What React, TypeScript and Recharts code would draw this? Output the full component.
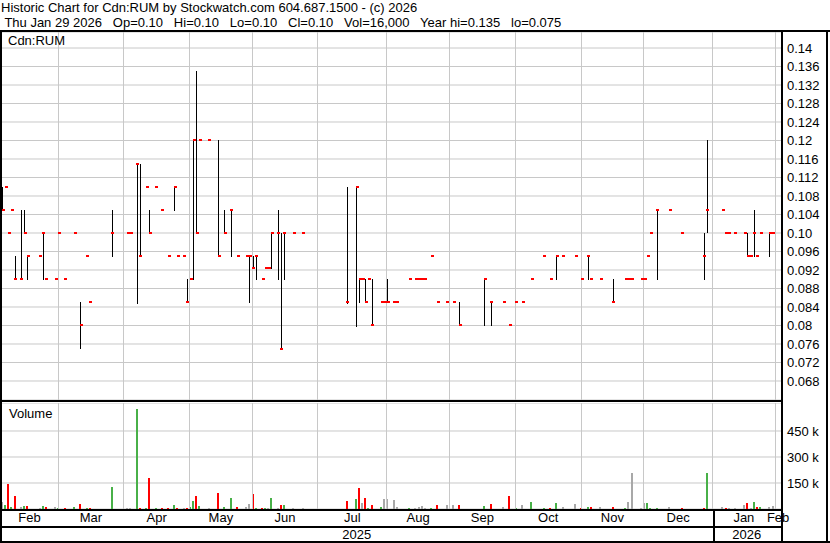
import { ComposedChart, BarChart, Bar, Scatter, XAxis, YAxis, CartesianGrid, ReferenceLine, Cell } from 'recharts';

// trading-day index (0 = Feb 3 2025) of every day with a trade
const dayIdx = [
  0, 1, 2, 3, 4, 6, 7, 8, 12, 13, 14, 17, 18,
  20, 23, 25, 27, 28, 35,
  40, 41, 43, 44, 46, 47, 49, 51, 53, 55, 56, 58, 59,
  60, 61, 62, 63, 66, 69, 71, 73, 75, 78, 79,
  80, 81, 83, 84, 85, 86, 88, 89, 90, 93, 96,
  110, 113, 114, 115, 116, 117, 118, 121, 122,
  123, 125, 126, 130, 132, 133, 134, 135, 137, 139, 142,
  144, 146, 154, 156, 160, 162,
  164, 166, 169, 173, 175, 177, 179, 183,
  185, 187, 188, 191, 195, 199, 200, 201, 204,
  205, 206, 207, 209, 213, 217, 224, 225,
  230, 231, 232, 234, 237, 238, 239, 240, 241, 242, 245, 246,
];

const highs = [
  0.11, 0.11, 0.1, 0.105, 0.095, 0.105, 0.105, 0.095, 0.095, 0.1, 0.09, 0.09, 0.1,
  0.09, 0.1, 0.085, 0.095, 0.085, 0.105,
  0.1, 0.1, 0.115, 0.115, 0.11, 0.105, 0.11, 0.105, 0.095, 0.11, 0.095, 0.095, 0.09,
  0.09, 0.12, 0.135, 0.12, 0.12, 0.12, 0.105, 0.105, 0.095, 0.095, 0.095,
  0.095, 0.095, 0.09, 0.0925, 0.0925, 0.1, 0.105, 0.1, 0.1, 0.1, 0.1,
  0.11, 0.11, 0.09, 0.09, 0.09, 0.09, 0.09, 0.085, 0.085,
  0.09, 0.085, 0.085, 0.09, 0.09, 0.09, 0.09, 0.09, 0.095, 0.085, 0.085,
  0.085, 0.085, 0.09, 0.085, 0.085, 0.08,
  0.085, 0.085, 0.09, 0.095, 0.09, 0.095, 0.095, 0.095,
  0.09, 0.095, 0.09, 0.09, 0.09, 0.09, 0.09, 0.09, 0.09,
  0.09, 0.095, 0.1, 0.105, 0.105, 0.1, 0.1, 0.12,
  0.105, 0.1, 0.1, 0.1, 0.1, 0.1, 0.095, 0.105, 0.095, 0.1, 0.1, 0.1,
];

const lows = [
  0.105, 0.11, 0.1, 0.105, 0.09, 0.09, 0.1, 0.09, 0.095, 0.09, 0.09, 0.09, 0.1,
  0.09, 0.1, 0.075, 0.095, 0.085, 0.095,
  0.1, 0.1, 0.085, 0.095, 0.11, 0.1, 0.11, 0.105, 0.095, 0.105, 0.095, 0.095, 0.085,
  0.09, 0.09, 0.1, 0.12, 0.12, 0.095, 0.1, 0.095, 0.095, 0.095, 0.085,
  0.0925, 0.09, 0.09, 0.0925, 0.0925, 0.0925, 0.09, 0.075, 0.09, 0.1, 0.1,
  0.085, 0.08, 0.085, 0.09, 0.085, 0.09, 0.08, 0.085, 0.085,
  0.085, 0.085, 0.085, 0.09, 0.09, 0.09, 0.09, 0.09, 0.095, 0.085, 0.085,
  0.085, 0.08, 0.08, 0.08, 0.085, 0.08,
  0.085, 0.085, 0.09, 0.095, 0.09, 0.09, 0.095, 0.095,
  0.09, 0.09, 0.09, 0.09, 0.085, 0.09, 0.09, 0.09, 0.09,
  0.09, 0.095, 0.1, 0.09, 0.105, 0.1, 0.09, 0.1,
  0.105, 0.1, 0.1, 0.1, 0.1, 0.095, 0.095, 0.095, 0.095, 0.1, 0.095, 0.1,
];

const closes = [
  0.105, 0.11, 0.1, 0.105, 0.09, 0.09, 0.1, 0.095, 0.095, 0.1, 0.09, 0.09, 0.1,
  0.09, 0.1, 0.08, 0.095, 0.085, 0.1,
  0.1, 0.1, 0.115, 0.095, 0.11, 0.1, 0.11, 0.105, 0.095, 0.11, 0.095, 0.095, 0.085,
  0.09, 0.12, 0.1, 0.12, 0.12, 0.095, 0.1, 0.105, 0.095, 0.095, 0.095,
  0.0925, 0.095, 0.09, 0.0925, 0.0925, 0.1, 0.1, 0.075, 0.1, 0.1, 0.1,
  0.085, 0.11, 0.09, 0.09, 0.085, 0.09, 0.08, 0.085, 0.085,
  0.085, 0.085, 0.085, 0.09, 0.09, 0.09, 0.09, 0.09, 0.095, 0.085, 0.085,
  0.085, 0.08, 0.09, 0.085, 0.085, 0.08,
  0.085, 0.085, 0.09, 0.095, 0.09, 0.095, 0.095, 0.095,
  0.09, 0.095, 0.09, 0.09, 0.085, 0.09, 0.09, 0.09, 0.09,
  0.09, 0.095, 0.1, 0.105, 0.105, 0.1, 0.095, 0.105,
  0.105, 0.1, 0.1, 0.1, 0.1, 0.095, 0.095, 0.1, 0.095, 0.1, 0.1, 0.1,
];

// volume in thousands of shares
const volumes = [
  39, 23, 144, 12, 75, 12, 17, 17, 6, 17, 12, 12, 6,
  6, 12, 29, 6, 6, 127,
  6, 6, 577, 6, 6, 179, 6, 6, 6, 23, 6, 6, 6,
  12, 46, 75, 17, 6, 92, 12, 63, 12, 12, 29,
  87, 6, 6, 6, 6, 63, 3, 25, 23, 6, 6,
  46, 58, 121, 35, 63, 6, 23, 12, 58,
  58, 52, 12, 6, 6, 12, 17, 6, 6, 23, 23,
  23, 23, 17, 29, 12, 75,
  6, 23, 40, 6, 6, 35, 12, 29,
  6, 12, 12, 12, 12, 6, 40, 208, 6,
  35, 35, 6, 6, 12, 6, 6, 208,
  12, 6, 6, 6, 23, 35, 6, 40, 12, 12, 12, 16,
];

// first trading day of each month (Mar 2025 .. Feb 2026)
const monthStarts = [18, 39, 60, 80, 101, 123, 143, 164, 185, 205, 227, 247];
const monthNames = ['Feb', 'Mar', 'Apr', 'May', 'Jun', 'Jul', 'Aug', 'Sep', 'Oct', 'Nov', 'Dec', 'Jan', 'Feb'];
const yearStarts = [227];
const yearNames = ['2025', '2026'];

const priceTicks = [
  0.068, 0.072, 0.076, 0.08, 0.084, 0.088, 0.092, 0.096, 0.1, 0.104,
  0.108, 0.112, 0.116, 0.12, 0.124, 0.128, 0.132, 0.136, 0.14,
];
const volumeTicks = [150000, 300000, 450000];

const X_MIN = -0.2;
const X_MAX = 248.85;
const P_MIN = 0.06389;
const P_MAX = 0.14346;
const V_MAX = 611500;

const RED = '#ff0000';
const GREEN = '#48b048';
const GRAY = '#a8a8a8';
const GRID = '#c8c8c8';
const FONT = '"Liberation Sans", Arial, sans-serif';

const rows = dayIdx.map((d, k) => {
  const prev = k > 0 ? closes[k - 1] : closes[k];
  const color = closes[k] > prev ? GREEN : closes[k] < prev ? RED : GRAY;
  return { i: d, range: [lows[k], highs[k]], close: closes[k], vol: volumes[k] * 1000, color };
});

const bounds = [X_MIN, ...monthStarts, X_MAX];
const monthMids = monthNames.map((_, k) => (bounds[k] + bounds[k + 1]) / 2);
const yBounds = [X_MIN, ...yearStarts, X_MAX];
const yearMids = yearNames.map((_, k) => (yBounds[k] + yBounds[k + 1]) / 2);

const fmtPrice = (v: number) => (Math.round(v * 1000) % 10 === 0 ? v.toFixed(2) : v.toFixed(3));

function HiLo(props: any) {
  const { x, y, width, height } = props;
  if (!height) return null;
  const cx = Math.round(x + width / 2);
  const top = Math.min(y, y + height);
  return <rect x={cx} y={Math.round(top)} width={1} height={Math.round(Math.abs(height)) + 1} fill="#000" shapeRendering="crispEdges" />;
}

function CloseTick(props: any) {
  const { cx, cy } = props;
  return <rect x={Math.round(cx)} y={Math.round(cy) - 1} width={3} height={2} fill={RED} shapeRendering="crispEdges" />;
}

function VolBar(props: any) {
  const { x, y, width, height, fill } = props;
  if (!height) return null;
  const cx = Math.round(x + width / 2);
  return <rect x={cx - 1} y={Math.round(y)} width={2} height={Math.max(1, Math.round(height))} fill={fill} shapeRendering="crispEdges" />;
}

const tickStyle = { fontSize: 13, fill: '#000', fontFamily: FONT };

const line = (left: number, top: number, width: number, height: number) => (
  <div style={{ position: 'absolute', left, top, width, height, background: '#000' }} />
);

export default function App() {
  return (
    <div style={{ position: 'absolute', left: 0, top: 0, width: 830, height: 543, background: '#fff', fontFamily: FONT, overflow: 'hidden' }}>
      <div style={{ position: 'absolute', left: 1, top: 0, fontSize: 13, lineHeight: '15px', whiteSpace: 'pre' }}>
        Historic Chart for Cdn:RUM by Stockwatch.com 604.687.1500 - (c) 2026
      </div>
      <div style={{ position: 'absolute', left: 1, top: 15, fontSize: 13, lineHeight: '15px', whiteSpace: 'pre' }}>
        {' Thu Jan 29 2026   Op=0.10   Hi=0.10   Lo=0.10   Cl=0.10   Vol=16,000   Year hi=0.135   lo=0.075'}
      </div>

      <div style={{ position: 'absolute', left: 0, top: 32 }}>
        <ComposedChart width={830} height={368} data={rows} margin={{ top: 0, right: 0, bottom: 0, left: 1 }}>
          <CartesianGrid vertical={false} stroke={GRID} />
          <XAxis type="number" dataKey="i" domain={[X_MIN, X_MAX]} allowDataOverflow hide />
          <YAxis
            orientation="right"
            type="number"
            domain={[P_MIN, P_MAX]}
            allowDataOverflow
            ticks={priceTicks}
            interval={0}
            tickFormatter={fmtPrice}
            width={49}
            axisLine={false}
            tickLine={false}
            tickSize={0}
            tickMargin={6}
            tick={tickStyle}
          />
          {monthStarts.map((m) => (
            <ReferenceLine key={m} x={m} stroke={GRID} shapeRendering="crispEdges" />
          ))}
          <Bar dataKey="range" barSize={2} shape={<HiLo />} isAnimationActive={false} />
          <Scatter dataKey="close" shape={<CloseTick />} isAnimationActive={false} />
        </ComposedChart>
      </div>

      <div style={{ position: 'absolute', left: 0, top: 403 }}>
        <BarChart width={830} height={138} data={rows} margin={{ top: 0, right: 0, bottom: 0, left: 1 }}>
          <CartesianGrid vertical={false} stroke={GRID} />
          <XAxis
            type="number"
            dataKey="i"
            domain={[X_MIN, X_MAX]}
            allowDataOverflow
            ticks={monthMids}
            interval={0}
            tickFormatter={(_v: number, k: number) => monthNames[k]}
            height={17}
            axisLine={false}
            tickLine={false}
            tickSize={0}
            tickMargin={4}
            tick={tickStyle}
          />
          <XAxis
            xAxisId="yr"
            type="number"
            dataKey="i"
            domain={[X_MIN, X_MAX]}
            allowDataOverflow
            ticks={yearMids}
            interval={0}
            tickFormatter={(_v: number, k: number) => yearNames[k]}
            height={15}
            axisLine={false}
            tickLine={false}
            tickSize={0}
            tickMargin={4}
            tick={tickStyle}
          />
          <YAxis
            orientation="right"
            type="number"
            domain={[0, V_MAX]}
            allowDataOverflow
            ticks={volumeTicks}
            interval={0}
            tickFormatter={(v: number) => `${v / 1000} k`}
            width={49}
            axisLine={false}
            tickLine={false}
            tickSize={0}
            tickMargin={6}
            tick={tickStyle}
          />
          {monthStarts.map((m) => (
            <ReferenceLine key={m} x={m} stroke={GRID} shapeRendering="crispEdges" />
          ))}
          <Bar dataKey="vol" barSize={2} shape={<VolBar />} isAnimationActive={false}>
            {rows.map((r) => (
              <Cell key={r.i} fill={r.color} />
            ))}
          </Bar>
        </BarChart>
      </div>

      <div style={{ position: 'absolute', left: 8, top: 33, fontSize: 13, lineHeight: '15px' }}>Cdn:RUM</div>
      <div style={{ position: 'absolute', left: 9, top: 406, fontSize: 13, lineHeight: '15px' }}>Volume</div>

      {line(0, 30, 830, 2)}
      {line(0, 30, 2, 513)}
      {line(781, 30, 2, 513)}
      {line(826, 30, 2, 513)}
      {line(0, 400, 781, 2)}
      {line(0, 509, 781, 2)}
      {line(0, 526, 781, 2)}
      {line(0, 541, 830, 2)}
      {line(713, 511, 2, 30)}
    </div>
  );
}
